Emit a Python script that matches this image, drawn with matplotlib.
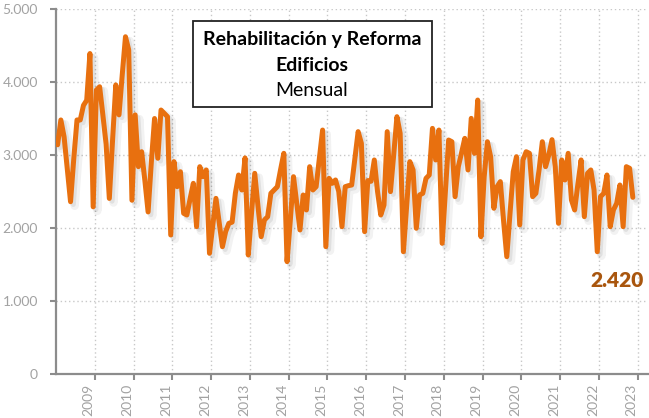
import numpy as np
import matplotlib.pyplot as plt
import matplotlib.patheffects as pe
from matplotlib.patches import Rectangle
from matplotlib.ticker import FuncFormatter

# Serie mensual desde 2008
valores = [3140, 3480, 3250, 2800, 2360, 2950, 3480, 3480, 3680, 3750,
           4390, 2290, 3890, 3935, 3550, 3150, 2405, 3200, 3960, 3550,
           4100, 4620, 4440, 2380, 3550, 2840, 3045, 2650, 2220, 2900,
           3500, 2955, 3616, 3571, 3525, 1904, 2909, 2566, 2771, 2201,
           2178, 2400, 2612, 2018, 2840, 2703, 2795, 1653, 2030, 2406,
           2070, 1744, 1950, 2064, 2080, 2475, 2726, 2521, 2960, 1630,
           2200, 2749, 2300, 1881, 2110, 2155, 2475, 2521, 2566, 2800,
           3023, 1539, 2100, 2703, 2340, 1973, 2452, 2247, 2840, 2521,
           2566, 2950, 3342, 1744, 2680, 2612, 2658, 2500, 2018, 2566,
           2580, 2589, 2950, 3320, 3160, 1950, 2650, 2640, 2932, 2500,
           2178, 2315, 3320, 2498, 3000, 3525, 3297, 1675, 2300, 2909,
           2795, 1996, 2452, 2475, 2680, 2726, 3365, 2932, 3342, 1790,
           2500, 3205, 3182, 2429, 2840, 3030, 3228, 2795, 3502, 3023,
           3753, 1881, 2700, 3182, 2977, 2270, 2566, 2635, 2100, 1607,
           2200, 2771, 2977, 2041, 2932, 3045, 3023, 2429, 2475, 2800,
           3182, 2840, 3000, 3210, 2840, 2064, 2932, 2658, 3023, 2384,
           2247, 2600, 2932, 2155, 2749, 2795, 2521, 1675, 2429, 2475,
           2726, 2018, 2247, 2338, 2589, 2018, 2840, 2818, 2420]
anios = list(range(2009, 2024))
titulo = ["Rehabilitación y Reforma", "Edificios", "Mensual"]

plt.rcParams['font.family'] = ['Lato', 'DejaVu Sans']

gris = '#a2a2a2'
naranja = '#e8700f'

fig = plt.figure(figsize=(6.49, 4.18), dpi=100)
ax = fig.add_axes([56 / 649, 44 / 418, 592 / 649, 365 / 418])

x = np.arange(len(valores))
ax.plot(x, valores, color=naranja, lw=3.6, solid_joinstyle='round',
        solid_capstyle='round', zorder=3,
        path_effects=[pe.SimpleLineShadow(offset=(3, -3), shadow_color='black',
                                          alpha=0.05, linewidth=6),
                      pe.SimpleLineShadow(offset=(2, -2), shadow_color='black',
                                          alpha=0.07),
                      pe.Normal()])

ax.set_xlim(-0.5, 182.7)
ax.set_ylim(0, 5000)

ax.set_xticks(11.5 + 12 * np.arange(len(anios)))
ax.set_xticklabels([str(a) for a in anios], rotation=90, ha='right')
ax.set_yticks(np.arange(0, 5001, 1000))
ax.yaxis.set_major_formatter(FuncFormatter(lambda v, p: f'{int(v):,}'.replace(',', '.')))

ax.tick_params(axis='both', colors='#8c8c8c', labelcolor=gris, labelsize=10,
               direction='out', length=4, width=1.5)
ax.tick_params(axis='y', pad=9)
ax.tick_params(axis='x', pad=3)

ax.grid(True, color='#c8c8c8', linestyle=(0, (1, 2)), linewidth=1)
ax.set_axisbelow(True)

for s in ['top', 'right']:
    ax.spines[s].set_visible(False)
for s in ['left', 'bottom']:
    ax.spines[s].set_color('#8c8c8c')
    ax.spines[s].set_linewidth(1.6)

# ultimo dato
ax.annotate(f'{valores[-1]:,}'.replace(',', '.'), xy=(x[-1], valores[-1]),
            xytext=(-16, -83), textcoords='offset pixels', ha='center', va='center',
            fontsize=15, fontweight='heavy', color='#a9560e')

# caja del titulo
fig.add_artist(Rectangle((193 / 649, (418 - 107) / 418), 239 / 649, 86 / 418,
                         transform=fig.transFigure, facecolor='white',
                         edgecolor='#222222', lw=1.3, zorder=5))
fig.text(312 / 649, (418 - 45) / 418, titulo[0], ha='center', va='baseline',
         fontsize=14, fontweight='bold', zorder=6)
fig.text(312 / 649, (418 - 71) / 418, titulo[1], ha='center', va='baseline',
         fontsize=14, fontweight='bold', zorder=6)
fig.text(312 / 649, (418 - 96.5) / 418, titulo[2], ha='center', va='baseline',
         fontsize=14, zorder=6)

fig.savefig('out.png', dpi=100)
